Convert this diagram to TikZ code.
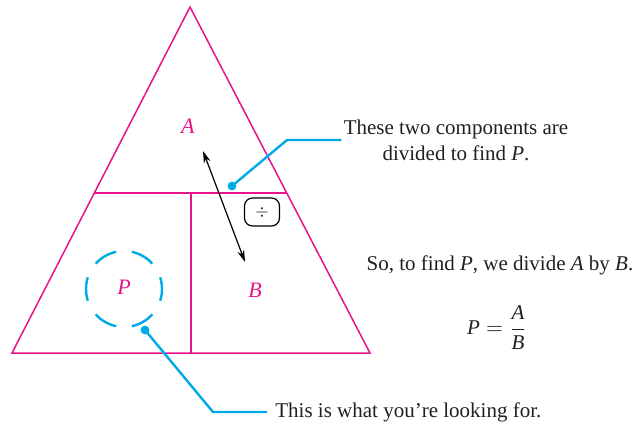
\documentclass[tikz,border=0pt]{standalone}
\usepackage{fontspec}
\setmainfont{Liberation Serif}
\usepackage{amsmath}
\usetikzlibrary{arrows.meta}
\definecolor{mymagenta}{RGB}{230,20,140}
\definecolor{mycyan}{RGB}{0,170,230}
\definecolor{mytext}{RGB}{35,31,32}

\begin{document}
\begin{tikzpicture}[x=0.5pt, y=-0.5pt, font=\fontsize{10.5}{13}\selectfont, text=mytext]
\useasboundingbox (0,0) rectangle (637,425);

 %triangle
 \coordinate (top) at (190,7);
 \coordinate (bl) at (12,353);
 \coordinate (br) at (370,353);
 \coordinate (ml) at (95,193);
 \coordinate (mr) at (287,193);
 \coordinate (mm) at (191,193);
 \coordinate (bm) at (191,353);
 \draw[mymagenta, line width=0.75pt] (top) -- (bl) -- (br) -- cycle;
 \draw[mymagenta, line width=0.75pt] (ml) -- (mr);
 \draw[mymagenta, line width=0.75pt] (mm) -- (bm);

 %letters
 \node[text=mymagenta, font=\fontsize{11}{13}\selectfont] (A) at (188,126) {\textit{A}};
 \node[text=mymagenta, font=\fontsize{11}{13}\selectfont] (B) at (255,290) {\textit{B}};
 \node[text=mymagenta, font=\fontsize{11}{13}\selectfont] (P) at (124,287) {\textit{P}};
 \draw[mycyan, line width=1.2pt, dash pattern=on 12pt off 7.9pt, dash phase=6pt] (124,289) circle[radius=19pt];

 %divide
 \coordinate (tipA) at (203,151);
 \coordinate (tipB) at (245,262);
 \draw[{Stealth[length=6pt,width=3.5pt]}-{Stealth[length=6pt,width=3.5pt]}, line width=0.6pt] (tipA) -- (tipB);
 \node[draw, rounded corners=4pt, minimum width=17.5pt, minimum height=14pt, line width=0.6pt, inner sep=0pt, font=\footnotesize] (div) at (262,212) {$\div$};

 %callouts
 \node[inner sep=1pt, align=center] (note1) at (456,140) {These two components are\\divided to find \textit{P}.};
 \coordinate (dot1) at (232,186);
 \coordinate (bend1) at (287,140);
 \fill[mycyan] (dot1) circle[radius=2.2pt];
 \draw[mycyan, line width=1.2pt] (dot1) -- (bend1) -- (note1.west);

 \node[anchor=west, inner sep=4pt] (note2) at (267,412) {This is what you’re looking for.};
 \coordinate (dot2) at (145,330);
 \coordinate (bend2) at (213,412);
 \fill[mycyan] (dot2) circle[radius=2.2pt];
 \draw[mycyan, line width=1.2pt] (dot2) -- (bend2) -- (note2.west);

 %formula
 \node (so) at (500,265) {So, to find \textit{P}, we divide \textit{A} by \textit{B}.};
 \node (eq) at (497,328) {$\textit{P} = \dfrac{\textit{A}}{\textit{B}}$};
\end{tikzpicture}
\end{document}
